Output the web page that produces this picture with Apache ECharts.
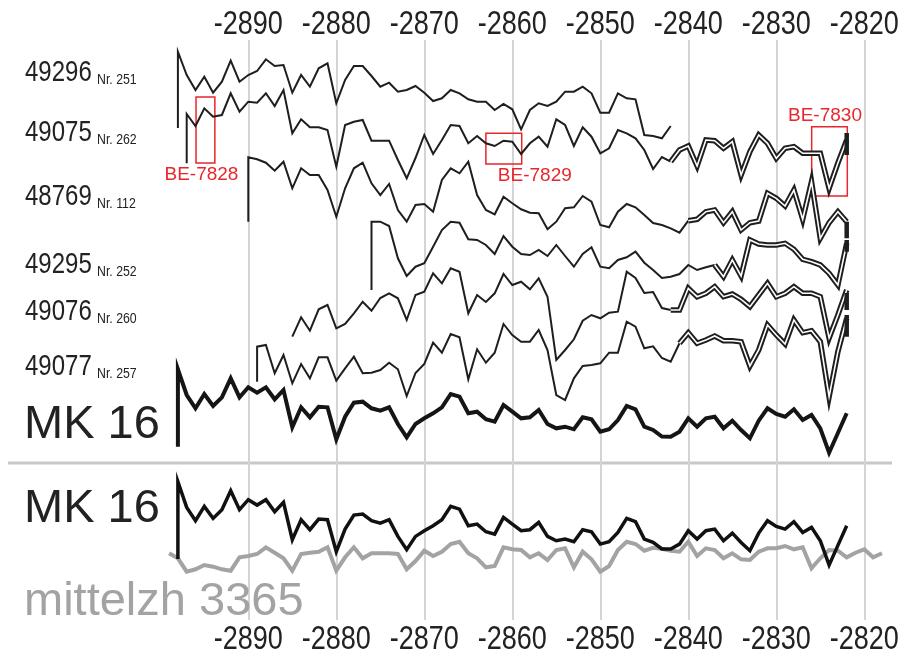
<!DOCTYPE html>
<html><head><meta charset="utf-8">
<script src="https://cdn.jsdelivr.net/npm/echarts@6/dist/echarts.min.js"></script>
<style>html,body{margin:0;padding:0;background:#fff;overflow:hidden}#c{width:900px;height:661px}</style>
</head><body><div id="c"></div>
<script>
// ---- tick labels (years) ----
const tickYears = [-2890,-2880,-2870,-2860,-2850,-2840,-2830,-2820];

// ---- ring-width curves (relative units, one value per year) ----
const rw49296 = [88.3,65,50,63.3,47.3,58.3,79.3,58.3,65,69,80.7,74,75,47.3,65,53.3,71.7,76.7,36.7,60,74,74,64,53.3,57.3,48.3,50,54,47.3,39,41.7,50,46.7,40.7,38.3,38.3,30,36,30.7,10.7,30,36.7,34,38.3,48.3,48.3,53.3,46.7,27.3,27.3,46.7,41.7,40.7,5,4,1.7,14];
const rw49075 = [76,64,81.7,73.3,75,96.7,78.3,88.3,87.3,96.7,84,100,56.7,70.7,62.7,62.7,60,23.3,65,68.3,70,49.3,49.3,49.3,30,11.7,32,55,36,50,65,64,46.7,54,46.7,44,49.3,48.3,36,46.7,53.3,43.3,70.7,65,44,62.7,53.3,36.7,41.7,60,56.7,51.7,40,21,33,28.3,40,44,24,50,49.3,41.7,48.3,15,38.3,55,46.7,31.7,41.7,43.3,36.7,36.7,36.7,1.7,27,50];
const rw48769 = [82.7,80.7,77.3,69.3,78.3,51.7,71.7,65,65,50,23.3,51.7,71.7,77.3,56.7,45,56,30,18.3,35,36,28.3,60,71.7,66.7,78.3,45,30,25.7,43.3,36.7,30.7,27.3,26.7,10.7,18.3,31.7,32.7,44,38.3,15,12.7,28.3,36,32.7,25,17,15,11.7,7.3,19.3,20.7,28.3,30,17.3,28.3,10,17.3,19,46.7,41.7,34,50,20.7,58.3,1.7,17.3,28.3,18.3];
const rw49295 = [68.3,68.3,64,31.7,14,23.3,26.7,43.3,60,68.3,67.3,50.7,50,45,36,54,43.3,36,35,40,34,45,34,23.3,36,42.7,23.3,21.7,30,32.7,38.3,27.3,20,12,13.3,16,25,20,22.7,25,13.3,30,14,50,46,45,45,46.7,40.7,30.7,28.3,25,16.7,5,46.7];
const rw49076 = [23.3,42.7,29.3,50.7,55,31.7,36,46.7,58.3,49.3,62,66.7,61.7,40,65,68.3,86.7,76.7,91.7,88.3,46.7,65,58,66.7,86,75,78.3,70.7,81.7,63.3,0,10,20.7,39.3,45,41.7,47.3,48.3,88.3,82,67,68,52,50,50,71.7,63.3,66.7,73.3,63.3,66,60.7,53.3,65,76.7,63.3,66.7,73.3,66.7,66.7,63.3,22,45,70];
const rw49077 = [53.3,55,26.7,45,16.7,36,21.7,42.7,42.7,19.3,31.7,43.3,26.7,27.3,30,37.3,30.7,4,27,36,57.3,47.3,66,62.7,20.7,50.7,37.3,47.3,76,65,58.3,58.3,70,50,5,0,21.7,34,35,36.7,47.3,47.3,78.3,73.3,51.7,53.7,42,38.3,56.7,67.3,56.7,60,64,59.3,59.3,58.3,34,50,75,65,56,80,67.3,69.3,58.3,3.3,48.3,81.7];
const rwMK16 = [90.7,65,51.7,66,54,62.7,81.7,62.7,72.7,67.3,72.7,60.7,70,32.7,52.7,42.7,53.3,52.7,20.7,43.3,57.3,58.3,51.7,49.3,52.7,36,22.7,36,41.7,46.7,52.7,66,63.3,46.7,48.3,40.7,38.3,55,48.3,41.7,42.7,50,36,31.7,33.3,30.7,42.7,40.7,28.3,30.7,40,54,50.7,33.3,30,23.5,23.3,28.3,41.7,33.3,41.7,43.3,31.7,39.3,30,21.7,39.3,51.7,46,43.3,50.7,40,45,31.7,7.3,27,46.7];
const rwMittelzh = [21.7,16.7,3.3,5.7,10,8.3,5.7,4.3,17.7,19,21,27.7,22.3,16.7,4.3,21,22.3,23.3,27.7,4.3,17.7,27.7,16.7,21.7,21.7,21.7,21,5.7,14,24.3,19,23.3,31,33.3,21.7,16.7,7.7,9,27.7,25.7,25,17.7,21.7,15,25,26.7,7.7,23.3,15.7,3.3,9,25,33.3,31,24.3,27.2,26.3,24.3,23.3,33.3,19,26.7,25,16.7,21.7,15.7,15,23.3,26.7,26.7,29,25.7,27.7,6.7,16.7,25,24.3,17.7,22.3,25.7,17.7,21.7];

// first year of each curve, pith marker level, sapwood start, bark-edge marker
const startYears = {s49296:-2898, s49075:-2897, s48769:-2890, s49295:-2876, s49076:-2885, s49077:-2889, MK16:-2898, mittelzh:-2899};
const pithLevels = {s49296:12, s49075:26.7, s48769:18.3, s49295:0, s49077:18.3, MK16:13.3};
const sapStart = {s49075:-2842, s48769:-2840, s49295:-2837, s49076:-2842, s49077:-2841};
const barkLevels = {s49075:[57,35], s48769:[18.3,1.7], s49295:[50,38.3], s49076:[67,50], s49077:[85,63.3]};

const curves = [
  {key:'s49296', vals:rw49296, off:480},
  {key:'s49075', vals:rw49075, off:430},
  {key:'s48769', vals:rw48769, off:380},
  {key:'s49295', vals:rw49295, off:330},
  {key:'s49076', vals:rw49076, off:260},
  {key:'s49077', vals:rw49077, off:220}
];

const INK = '#1e1e1e';
const series = [];
function pts(vals, start, off){ return vals.map((v,i)=>[start+i, off+v]); }
function line(data, color, width, z){
  return {type:'line', data, showSymbol:false, symbol:'none', silent:true, z:z||2,
          lineStyle:{color, width, cap:'butt', join:'miter'}, xAxisIndex:0, yAxisIndex:0};
}
curves.forEach(c=>{
  const start = startYears[c.key];
  const p = pts(c.vals, start, c.off);
  let thin = p;
  const sap = sapStart[c.key];
  let sapPart = null;
  if (sap !== undefined){
    const idx = sap - start;
    thin = p.slice(0, idx+1);
    sapPart = p.slice(idx);
  }
  if (pithLevels[c.key] !== undefined) thin = [[start, c.off+pithLevels[c.key]]].concat(thin);
  series.push(line(thin, INK, 2));
  if (sapPart){
    series.push(line(sapPart, INK, 5.5, 3));
    series.push(line(sapPart, '#ffffff', 1.6, 4));
  }
  const b = barkLevels[c.key];
  if (b){
    const endYear = start + c.vals.length - 1;
    series.push(line([[endYear, c.off+b[0]],[endYear, c.off+b[1]]], INK, 4.5, 5));
  }
});
// MK 16 (upper)
const mkStart = startYears.MK16;
series.push(line([[mkStart, 160+pithLevels.MK16]].concat(pts(rwMK16, mkStart, 160)), '#151515', 4));
// mittelzh 3365 (gray), drawn under MK 16 (lower)
series.push(line(pts(rwMittelzh, startYears.mittelzh, 45), '#a3a3a3', 4));
series.push(line([[mkStart, 47.6+pithLevels.MK16]].concat(pts(rwMK16, mkStart, 47.6)), '#111111', 3.5, 3));

// BE sample boxes
const RED = '#e8262b';
series.push({type:'line', data:[], silent:true,
  markArea:{silent:true,
    itemStyle:{color:'rgba(0,0,0,0)', borderColor:RED, borderWidth:1.5},
    label:{color:RED, fontSize:19, fontFamily:'Liberation Sans, Arial, sans-serif'},
    data:[
      [{name:'BE-7828', xAxis:-2895.94, yAxis:523, label:{position:'bottom', distance:2, offset:[-4,0]}}, {xAxis:-2893.8, yAxis:457}],
      [{name:'BE-7829', xAxis:-2863.0, yAxis:486.7, label:{position:'bottom', distance:2, offset:[31,0]}}, {xAxis:-2858.93, yAxis:456}],
      [{name:'BE-7830', xAxis:-2825.98, yAxis:493.3, label:{position:'top', distance:1, offset:[-4.5,0]}}, {xAxis:-2821.93, yAxis:424}]
    ]}
});

const REG = "'Liberation Sans',Arial,sans-serif";
const rowLabels = [
  ['49296','Nr. 251',73],['49075','Nr. 262',133],['48769','Nr. 112',197],
  ['49295','Nr. 252',265],['49076','Nr. 260',312],['49077','Nr. 257',367]
];
const graphics = [
  {type:'line', shape:{x1:8, y1:463, x2:892, y2:463}, style:{stroke:'#c8c8c8', lineWidth:3}, z:-1}
];
rowLabels.forEach(r=>{
  graphics.push({type:'text', x:25, y:r[2], scaleX:0.8, style:{text:r[0], font:'30px '+REG, fill:'#222', textVerticalAlign:'middle'}});
  graphics.push({type:'text', x:97, y:r[2]+7, scaleX:0.82, style:{text:r[1], font:'15px '+REG, fill:'#222', textVerticalAlign:'middle'}});
});
graphics.push({type:'text', x:24, y:425, style:{text:'MK 16', font:'47px '+REG, fill:'#222', textVerticalAlign:'middle'}});
graphics.push({type:'text', x:24, y:509, style:{text:'MK 16', font:'47px '+REG, fill:'#222', textVerticalAlign:'middle'}});
graphics.push({type:'text', x:24, y:602, style:{text:'mittelzh 3365', font:'47px '+REG, fill:'#a3a3a3', textVerticalAlign:'middle'}});

const chart = echarts.init(document.getElementById('c'), null, {renderer:'canvas', width:900, height:661});
chart.setOption({
  animation:false,
  backgroundColor:'#ffffff',
  grid:{left:160.3, right:18.1, top:40, bottom:41, containLabel:false},
  xAxis:{type:'value', min:-2900, max:-2818, interval:10, position:'top',
    axisLine:{show:false}, axisTick:{show:false}, axisLabel:{show:false},
    splitLine:{show:true, showMinLine:false, showMaxLine:false, lineStyle:{color:'#d4d4d4', width:2}}},
  yAxis:{type:'value', min:0, max:580, show:false, splitLine:{show:false}},
  series
});
// year tick labels, top and bottom, placed through the x axis scale (narrow lettering)
tickYears.forEach(yr=>{
  const px = chart.convertToPixel({xAxisIndex:0}, yr);
  [25, 640].forEach(py=>graphics.push({type:'text', x:px, y:py, scaleX:0.82,
    style:{text:String(yr), font:'33px '+REG, fill:'#222', textAlign:'center', textVerticalAlign:'middle'}}));
});
chart.setOption({graphic:graphics});
</script></body></html>
